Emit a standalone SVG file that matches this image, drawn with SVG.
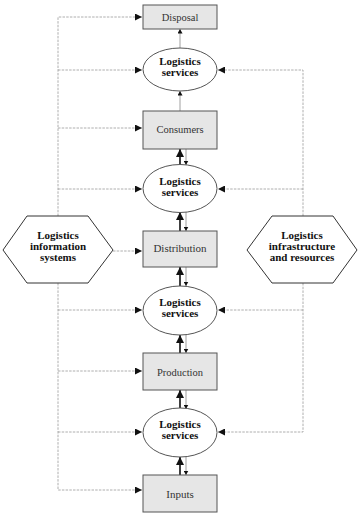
<svg xmlns="http://www.w3.org/2000/svg" width="361" height="514" viewBox="0 0 361 514">
<defs>
<style>
.box{fill:#e6e6e6;stroke:#555;stroke-width:1}
.ell{fill:#fff;stroke:#555;stroke-width:1}
.hex{fill:#fff;stroke:#333;stroke-width:1}
.bt{font-family:"Liberation Serif",serif;font-size:10.5px;fill:#333;text-anchor:middle}
.et{font-family:"Liberation Serif",serif;font-size:11px;font-weight:bold;fill:#111;text-anchor:middle}
.dash{fill:none;stroke:#9a9a9a;stroke-width:0.8;stroke-dasharray:2.5,1.2}
.thin{fill:none;stroke:#888;stroke-width:0.8}
.thick{fill:none;stroke:#111;stroke-width:1.6}
</style>
<marker id="ah" markerWidth="8" markerHeight="7" refX="7" refY="3.5" orient="auto" markerUnits="userSpaceOnUse">
<path d="M0,0 L7,3.5 L0,7 Z" fill="#111"/>
</marker>
<marker id="as" markerWidth="5" markerHeight="5" refX="4.5" refY="2.5" orient="auto" markerUnits="userSpaceOnUse">
<path d="M0,0 L4.5,2.5 L0,5 Z" fill="#111"/>
</marker>
<marker id="at" markerWidth="8" markerHeight="8" refX="8" refY="4" orient="auto" markerUnits="userSpaceOnUse">
<path d="M0,0 L8,4 L0,8 Z" fill="#111"/>
</marker>
</defs>
<rect width="361" height="514" fill="#fff"/>
<g id="connectors">
<!-- left information line -->
<path class="dash" d="M58,216 V17 H142" marker-end="url(#ah)"/>
<path class="dash" d="M58,70 H142" marker-end="url(#ah)"/>
<path class="dash" d="M58,128 H142" marker-end="url(#ah)"/>
<path class="dash" d="M58,189 H142" marker-end="url(#ah)"/>
<path class="dash" d="M113,251 H142" marker-end="url(#ah)"/>
<path class="dash" d="M58,283 V490 H142" marker-end="url(#ah)"/>
<path class="dash" d="M58,310 H142" marker-end="url(#ah)"/>
<path class="dash" d="M58,371 H142" marker-end="url(#ah)"/>
<path class="dash" d="M58,432 H142" marker-end="url(#ah)"/>
<!-- right infrastructure line -->
<path class="dash" d="M303,216 V70 H218" marker-end="url(#ah)"/>
<path class="dash" d="M303,189 H218" marker-end="url(#ah)"/>
<path class="dash" d="M303,283 V432 H218" marker-end="url(#ah)"/>
<path class="dash" d="M303,310 H218" marker-end="url(#ah)"/>
<!-- vertical flows -->
<path class="thin" d="M180,48 V29" marker-end="url(#as)"/>
<path class="thin" d="M180,111 V91" marker-end="url(#as)"/>
<path class="thick" d="M180,164 V149" marker-end="url(#at)"/>
<path class="thin" d="M186,149 V165" marker-end="url(#as)"/>
<path class="thick" d="M180,231 V212" marker-end="url(#at)"/>
<path class="thin" d="M186,212 V231" marker-end="url(#as)"/>
<path class="thick" d="M180,286 V267" marker-end="url(#at)"/>
<path class="thin" d="M186,267 V286" marker-end="url(#as)"/>
<path class="thick" d="M180,353 V335" marker-end="url(#at)"/>
<path class="thin" d="M186,335 V353" marker-end="url(#as)"/>
<path class="thick" d="M180,408 V390" marker-end="url(#at)"/>
<path class="thin" d="M186,390 V409" marker-end="url(#as)"/>
<path class="thick" d="M180,475 V457" marker-end="url(#at)"/>
<path class="thin" d="M186,457 V475" marker-end="url(#as)"/>
</g>
<g id="disposal"><rect class="box" x="143" y="5" width="74" height="24"/><text class="bt" x="180" y="21">Disposal</text></g>
<g id="services1"><ellipse class="ell" cx="180" cy="69.5" rx="37" ry="21.5"/><text class="et" x="180" y="65">Logistics</text><text class="et" x="180" y="76">services</text></g>
<g id="consumers"><rect class="box" x="143" y="111" width="74" height="38"/><text class="bt" x="180" y="133">Consumers</text></g>
<g id="services2"><ellipse class="ell" cx="180" cy="188.5" rx="37" ry="24"/><text class="et" x="180" y="185">Logistics</text><text class="et" x="180" y="196">services</text></g>
<g id="distribution"><rect class="box" x="143" y="231" width="74" height="36"/><text class="bt" x="180" y="252" style="font-size:11px">Distribution</text></g>
<g id="services3"><ellipse class="ell" cx="180" cy="310.5" rx="37" ry="24.5"/><text class="et" x="180" y="306">Logistics</text><text class="et" x="180" y="317">services</text></g>
<g id="production"><rect class="box" x="143" y="353" width="74" height="37"/><text class="bt" x="180" y="376">Production</text></g>
<g id="services4"><ellipse class="ell" cx="180" cy="432.5" rx="37" ry="24.5"/><text class="et" x="180" y="428">Logistics</text><text class="et" x="180" y="439">services</text></g>
<g id="inputs"><rect class="box" x="143" y="475" width="74" height="37"/><text class="bt" x="180" y="498" style="font-size:11px">Inputs</text></g>
<g id="info-systems"><polygon class="hex" points="3,250 27,216 88,216 113,250 88,283 27,283"/><text class="et" x="58" y="239">Logistics</text><text class="et" x="58" y="250">information</text><text class="et" x="58" y="261">systems</text></g>
<g id="infrastructure"><polygon class="hex" points="247,250 272,216 333,216 357,250 333,283 272,283"/><text class="et" x="302" y="239">Logistics</text><text class="et" x="302" y="250">infrastructure</text><text class="et" x="302" y="261">and resources</text></g>
</svg>
